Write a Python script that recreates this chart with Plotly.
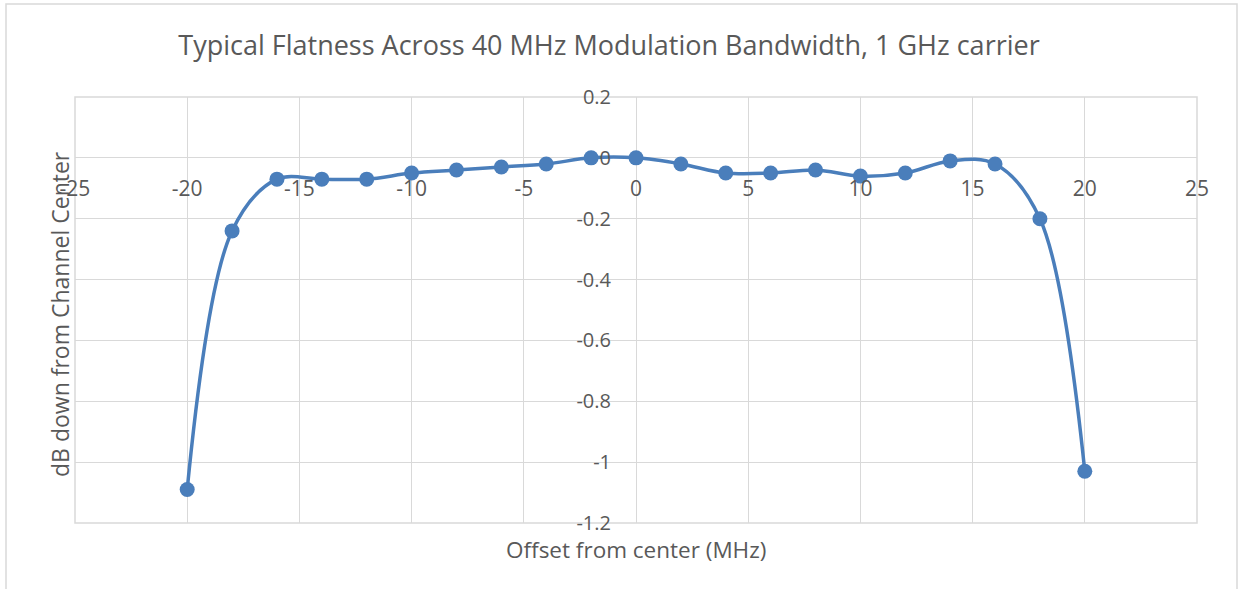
import plotly.graph_objects as go

offset_mhz = [-20, -18, -16, -14, -12, -10, -8, -6, -4, -2, 0, 2, 4, 6, 8, 10, 12, 14, 16, 18, 20]
db_down = [-1.09, -0.24, -0.07, -0.07, -0.07, -0.05, -0.04, -0.03, -0.02, 0.0, 0.0,
           -0.02, -0.05, -0.05, -0.04, -0.06, -0.05, -0.01, -0.02, -0.20, -1.03]

x_ticks = [-25, -20, -15, -10, -5, 0, 5, 10, 15, 20, 25]
x_tick_text = ["-25", "-20", "-15", "-10", "-5", "0", "5", "10", "15", "20", "25"]
y_ticks = [0.2, 0, -0.2, -0.4, -0.6, -0.8, -1.0, -1.2]
y_tick_text = ["0.2", "0", "-0.2", "-0.4", "-0.6", "-0.8", "-1", "-1.2"]

title_text = "Typical Flatness Across 40 MHz Modulation Bandwidth, 1 GHz carrier"
x_title = "Offset from center (MHz)"
y_title = "dB down from Channel Center"

FONT = "Open Sans"
TXT = "#595959"
GRID = "#d9d9d9"
BLUE = "#4a7ebb"

fig = go.Figure()
fig.add_trace(go.Scatter(
    x=offset_mhz, y=db_down, mode="lines+markers",
    line=dict(color=BLUE, width=3.5, shape="spline", smoothing=1.0),
    marker=dict(color=BLUE, size=15),
    showlegend=False,
))

W, H = 1238, 589
L, R, T, B = 75, 41, 97, 66
pw = W - L - R
ph = H - T - B
ymin, ymax = -1.2, 0.2
y0_frac = (0 - ymin) / (ymax - ymin)

fig.update_layout(
    width=W, height=H,
    margin=dict(l=L, r=R, t=T, b=B),
    paper_bgcolor="white", plot_bgcolor="white",
    font=dict(family=FONT, color=TXT),
    title=dict(text=title_text, x=609 / W, xanchor="center", y=1 - 46 / H, yanchor="middle",
               font=dict(size=27, color=TXT, family=FONT)),
    xaxis=dict(range=[-25, 25], tickvals=x_ticks, ticktext=x_tick_text,
               showgrid=True, gridcolor=GRID, gridwidth=1, zeroline=False,
               showline=False, ticks="", anchor="free", position=y0_frac,
               ticklabelstandoff=16,
               tickfont=dict(size=21, color=TXT, family=FONT)),
    yaxis=dict(range=[ymin, ymax], tickvals=y_ticks, ticktext=y_tick_text,
               showgrid=True, gridcolor=GRID, gridwidth=1, zeroline=False,
               showline=False, ticks="", anchor="free", position=0.5,
               ticklabelstandoff=25,
               tickfont=dict(size=20, color=TXT, family=FONT)),
    shapes=[
        dict(type="rect", xref="paper", yref="paper", x0=0, x1=1, y0=0, y1=1,
             line=dict(color=GRID, width=1.5), layer="below"),
        dict(type="rect", xref="paper", yref="paper",
             x0=(6 - L) / pw, x1=(1237 - L) / pw, y0=(T + ph - 600) / ph, y1=(T + ph - 4) / ph,
             line=dict(color=GRID, width=1.5), layer="below"),
    ],
    annotations=[
        dict(text=x_title, xref="paper", yref="paper", x=(636 - L) / pw, y=(T + ph - 549) / ph,
             xanchor="center", yanchor="middle", showarrow=False,
             font=dict(size=22.5, color=TXT, family=FONT)),
        dict(text=y_title, xref="paper", yref="paper", x=(60 - L) / pw, y=(T + ph - 314) / ph,
             xanchor="center", yanchor="middle", showarrow=False, textangle=-90,
             font=dict(size=23, color=TXT, family=FONT)),
    ],
)

fig.write_html("out.html", config={"displayModeBar": False},
               post_script="document.body.style.margin='0';")
